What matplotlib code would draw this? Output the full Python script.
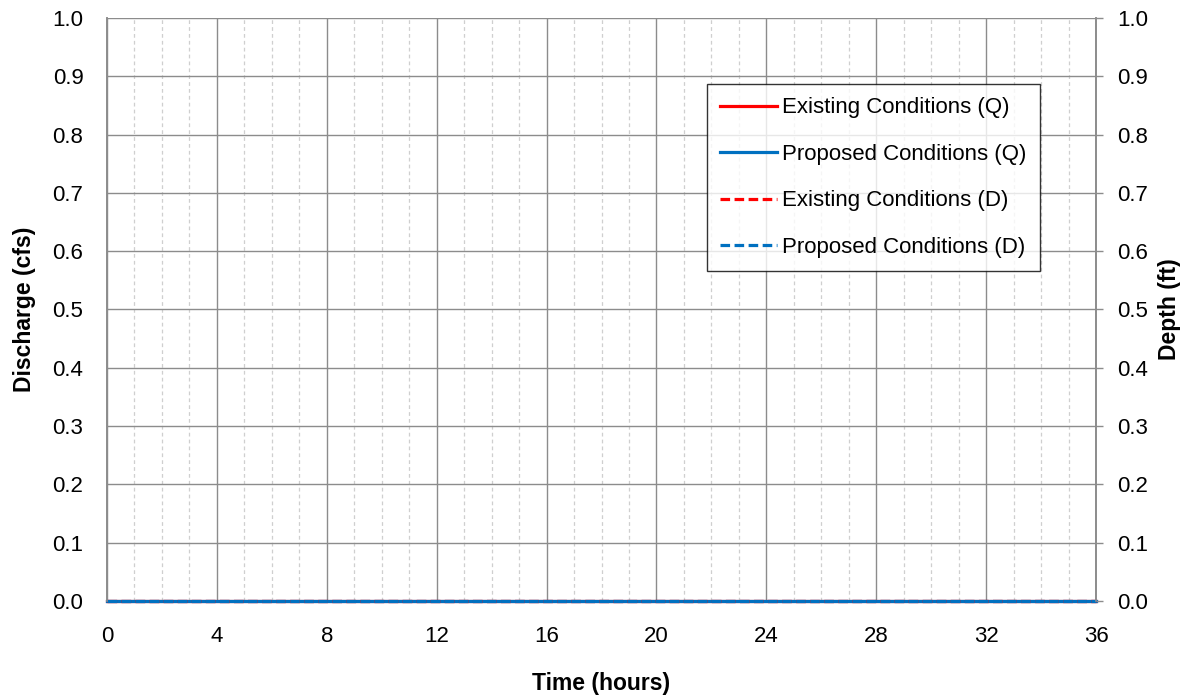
import matplotlib
matplotlib.use('Agg')
import matplotlib.pyplot as plt
from matplotlib.ticker import MultipleLocator

plt.rcParams['font.family'] = ['Liberation Sans', 'DejaVu Sans']

# Hydrograph data (all zero flow / depth)
time_hr = [0, 1, 2, 3, 4, 5, 6, 7, 8, 9, 10, 11, 12, 13, 14, 15, 16, 17, 18,
           19, 20, 21, 22, 23, 24, 25, 26, 27, 28, 29, 30, 31, 32, 33, 34, 35, 36]
existing_q = [0.0, 0.0, 0.0, 0.0, 0.0, 0.0, 0.0, 0.0, 0.0, 0.0, 0.0, 0.0, 0.0,
              0.0, 0.0, 0.0, 0.0, 0.0, 0.0, 0.0, 0.0, 0.0, 0.0, 0.0, 0.0, 0.0,
              0.0, 0.0, 0.0, 0.0, 0.0, 0.0, 0.0, 0.0, 0.0, 0.0, 0.0]
proposed_q = [0.0, 0.0, 0.0, 0.0, 0.0, 0.0, 0.0, 0.0, 0.0, 0.0, 0.0, 0.0, 0.0,
              0.0, 0.0, 0.0, 0.0, 0.0, 0.0, 0.0, 0.0, 0.0, 0.0, 0.0, 0.0, 0.0,
              0.0, 0.0, 0.0, 0.0, 0.0, 0.0, 0.0, 0.0, 0.0, 0.0, 0.0]
existing_d = [0.0, 0.0, 0.0, 0.0, 0.0, 0.0, 0.0, 0.0, 0.0, 0.0, 0.0, 0.0, 0.0,
              0.0, 0.0, 0.0, 0.0, 0.0, 0.0, 0.0, 0.0, 0.0, 0.0, 0.0, 0.0, 0.0,
              0.0, 0.0, 0.0, 0.0, 0.0, 0.0, 0.0, 0.0, 0.0, 0.0, 0.0]
proposed_d = [0.0, 0.0, 0.0, 0.0, 0.0, 0.0, 0.0, 0.0, 0.0, 0.0, 0.0, 0.0, 0.0,
              0.0, 0.0, 0.0, 0.0, 0.0, 0.0, 0.0, 0.0, 0.0, 0.0, 0.0, 0.0, 0.0,
              0.0, 0.0, 0.0, 0.0, 0.0, 0.0, 0.0, 0.0, 0.0, 0.0, 0.0]

RED = '#FF0000'
BLUE = '#0070C0'
GRID = '#8C8C8C'

fig = plt.figure(figsize=(11.83, 6.96), dpi=100)
ax = fig.add_axes([107 / 1183, 95 / 696, 989 / 1183, 583 / 696])
ax2 = ax.twinx()

dash = (0, (3.0, 1.4))
l1, = ax.plot(time_hr, existing_q, color=RED, lw=2.3, label='Existing Conditions (Q)', clip_on=False, zorder=3)
l2, = ax.plot(time_hr, proposed_q, color=BLUE, lw=2.3, label='Proposed Conditions (Q)', clip_on=False, zorder=4)
l3, = ax2.plot(time_hr, existing_d, color=RED, lw=2.3, ls=dash, label='Existing Conditions (D)', clip_on=False)
l4, = ax2.plot(time_hr, proposed_d, color=BLUE, lw=2.3, ls=dash, label='Proposed Conditions (D)', clip_on=False)

for a in (ax, ax2):
    a.set_xlim(0, 36)
    a.set_ylim(0, 1.0)
    a.yaxis.set_major_locator(MultipleLocator(0.1))
    a.yaxis.set_major_formatter(plt.FormatStrFormatter('%.1f'))
    a.spines['top'].set_visible(False)
    a.spines['bottom'].set_visible(False)
    a.spines['left'].set_color(GRID)
    a.spines['right'].set_color(GRID)
    a.spines['left'].set_linewidth(1.2)
    a.spines['right'].set_linewidth(1.2)

ax.xaxis.set_major_locator(MultipleLocator(4))
ax.xaxis.set_minor_locator(MultipleLocator(1))
ax.grid(which='major', axis='both', color=GRID, lw=1.0)
ax.grid(which='minor', axis='x', color='#CFCFCF', lw=0.9, ls=(0, (3, 2.5)))
ax.set_axisbelow(True)

ax.tick_params(axis='x', which='both', length=0, pad=18, labelsize=16)
ax.tick_params(axis='y', length=0, pad=17, labelsize=16)
ax2.tick_params(axis='y', length=5, width=1.0, color=GRID, pad=10, labelsize=16)

ax.set_xlabel('Time (hours)', fontsize=16.5, fontweight='bold', labelpad=18)
ax.set_ylabel('Discharge (cfs)', fontsize=16.5, fontweight='bold', labelpad=12)
ax2.set_ylabel('Depth (ft)', fontsize=16.5, fontweight='bold', rotation=90, labelpad=7)

leg = ax.legend(handles=[l1, l2, l3, l4], loc='upper left',
                bbox_to_anchor=(0.6067, 0.8868), frameon=True, fancybox=False,
                fontsize=16, handlelength=2.55, handletextpad=0.22,
                labelspacing=1.15, borderpad=0.6, borderaxespad=0)
leg.get_frame().set_edgecolor('black')
leg.get_frame().set_linewidth(1.0)
leg.set_zorder(10)

fig.savefig('out.png', dpi=100)
